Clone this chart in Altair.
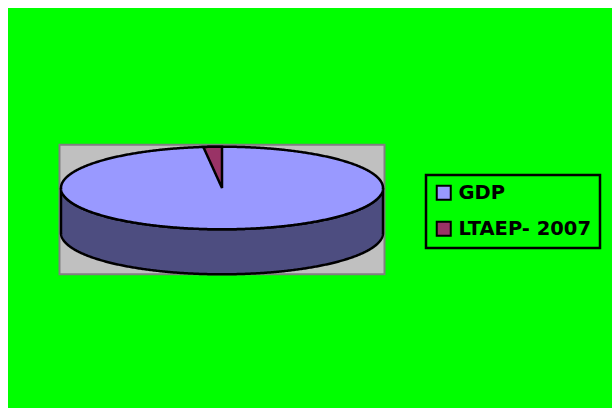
import numpy as np
import pandas as pd
import altair as alt

# ---- data ----
categories = ["GDP", "LTAEP- 2007"]
shares = [98.15, 1.85]
top_colors = ["#9999FF", "#993366"]
side_color = "#4D4D80"

# ---- geometry of the 3-D pie (plot coordinates, px) ----
CX, CY = 214.0, 180.0
RX, RY = 161.0, 41.3
DEPTH = 45.0

t = np.linspace(0, np.pi, 361)
ex = CX - RX * np.cos(t)

top_df = pd.DataFrame({
    "x": ex,
    "y": CY - RY * np.sin(t),
    "y2": CY + RY * np.sin(t),
    "cat": categories[0],
})

side_df = pd.DataFrame({
    "x": ex,
    "y": CY + RY * np.sin(t),
    "y2": CY + RY * np.sin(t) + DEPTH,
})

frac = shares[1] / sum(shares)
phi = 2 * np.pi * frac
s = np.linspace(phi, 0, 60)
xe = CX - RX * np.sin(phi)
ye = CY - RY * np.cos(phi)
sx = CX - RX * np.sin(s)
slice_df = pd.DataFrame({
    "x": sx,
    "y": CY - RY * np.cos(s),
    "y2": CY + (sx - CX) / (xe - CX) * (ye - CY),
    "cat": categories[1],
})

box_df = pd.DataFrame({
    "x": [CX - RX - 1.5], "x2": [CX + RX + 1.5],
    "y": [CY - RY - 2], "y2": [CY + DEPTH + RY],
})

xs = alt.Scale(domain=[0, 604], nice=False, zero=False)
ys = alt.Scale(domain=[0, 400], nice=False, zero=False, reverse=True)

color = alt.Color(
    "cat:N",
    scale=alt.Scale(domain=categories, range=top_colors),
    legend=alt.Legend(
        title=None,
        orient="none",
        legendX=418,
        legendY=167,
        padding=8,
        strokeColor="black",
        symbolType="square",
        symbolSize=196,
        symbolStrokeColor="black",
        symbolStrokeWidth=2,
        symbolOpacity=1,
        labelFont="DejaVu Sans",
        labelFontWeight="bold",
        labelFontSize=19.5,
        labelColor="black",
        labelOffset=5,
        rowPadding=13,
    ),
)

box = alt.Chart(box_df).mark_rect(
    fill="#C0C0C0", stroke="#808080", strokeWidth=2
).encode(
    x=alt.X("x:Q", scale=xs, axis=None),
    x2="x2:Q",
    y=alt.Y("y:Q", scale=ys, axis=None),
    y2="y2:Q",
)

side = alt.Chart(side_df).mark_area(
    fill=side_color, stroke="black", strokeWidth=2.5, opacity=1
).encode(
    x=alt.X("x:Q", scale=xs, axis=None),
    y=alt.Y("y:Q", scale=ys, axis=None),
    y2="y2:Q",
)

top = alt.Chart(top_df).mark_area(
    stroke="black", strokeWidth=2.5, opacity=1
).encode(
    x=alt.X("x:Q", scale=xs, axis=None),
    y=alt.Y("y:Q", scale=ys, axis=None),
    y2="y2:Q",
    color=color,
)

slc = alt.Chart(slice_df).mark_area(
    stroke="black", strokeWidth=2.5, opacity=1
).encode(
    x=alt.X("x:Q", scale=xs, axis=None),
    y=alt.Y("y:Q", scale=ys, axis=None),
    y2="y2:Q",
    color=color,
)

chart = alt.layer(box, side, top, slc).properties(
    width=604,
    height=400,
    background="white",
    padding={"left": 8, "top": 8, "right": 0, "bottom": 0},
    autosize=alt.AutoSizeParams(type="none"),
).configure_view(
    fill="#00FF00", stroke="#00FF00", strokeWidth=0
).configure_legend(strokeWidth=2.5)

chart.save("out.html", embed_options={"renderer": "svg", "actions": False})
